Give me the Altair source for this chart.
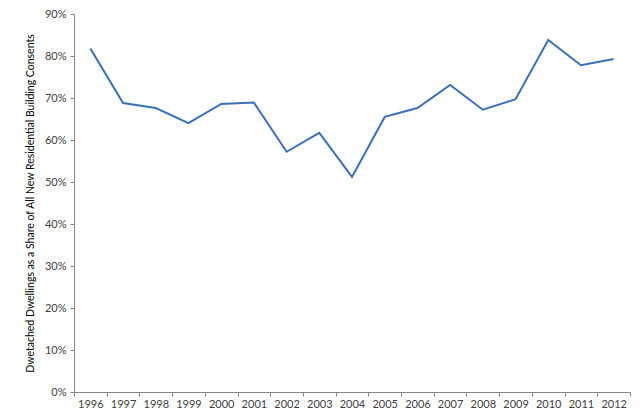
import altair as alt
import pandas as pd

years = ["1996", "1997", "1998", "1999", "2000", "2001", "2002", "2003", "2004",
         "2005", "2006", "2007", "2008", "2009", "2010", "2011", "2012"]
share = [0.818, 0.688, 0.676, 0.640, 0.686, 0.689, 0.572, 0.617, 0.512,
         0.655, 0.676, 0.731, 0.672, 0.697, 0.838, 0.778, 0.793]

df = pd.DataFrame({"year": years, "share": share})

FONT = "Lato"
AXIS_GRAY = "#868686"

chart = alt.Chart(df).mark_line(color="#3a70b8", strokeWidth=2).encode(
    x=alt.X("year:O", title=None, sort=years, bandPosition=0.5,
            scale=alt.Scale(type="band", paddingInner=0, paddingOuter=0),
            axis=alt.Axis(labelAngle=0, tickBand="extent", tickSize=4,
                          labelPadding=2, domainColor=AXIS_GRAY, tickColor=AXIS_GRAY,
                          labelColor="#404040", labelFont=FONT, labelFontSize=11)),
    y=alt.Y("share:Q", title="Dwetached Dwellings as a Share of All New Residential Building Consents",
            scale=alt.Scale(domain=[0, 0.9], nice=False),
            axis=alt.Axis(format=".0%", values=[0, 0.1, 0.2, 0.3, 0.4, 0.5, 0.6, 0.7, 0.8, 0.9],
                          grid=False, tickSize=4, labelPadding=4, domainColor=AXIS_GRAY,
                          tickColor=AXIS_GRAY, labelColor="#404040", labelFont=FONT,
                          labelFontSize=11, titleFont=FONT, titleFontSize=10.5,
                          titleFontWeight="normal", titleColor="#000000", titlePadding=9)),
).properties(
    width=556, height=378,
    autosize=alt.AutoSizeParams(type="none"),
    padding={"left": 66, "top": 6, "right": 2, "bottom": 16},
).configure_view(stroke=None)

chart.save("out.html", embed_options={"renderer": "svg", "actions": False})
